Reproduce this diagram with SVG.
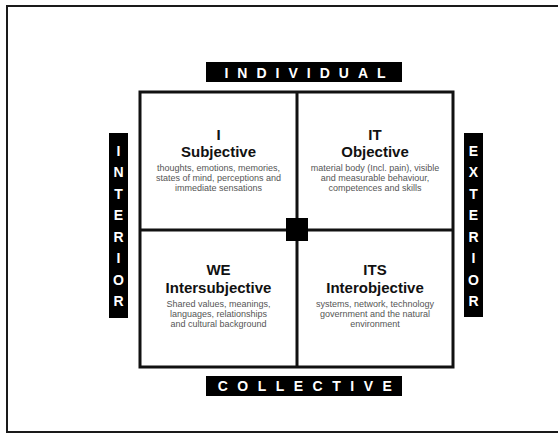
<svg xmlns="http://www.w3.org/2000/svg" width="558" height="434" viewBox="0 0 558 434">
<style>
.frame{fill:none;stroke:#111;stroke-width:3}
.label{fill:#000}
.lt{font-family:"Liberation Sans",Arial,sans-serif;font-weight:bold;font-size:14px;fill:#fff}
.vt{font-family:"Liberation Sans",Arial,sans-serif;font-weight:bold;font-size:14px;fill:#fff;text-anchor:middle}
.h{font-family:"Liberation Sans",Arial,sans-serif;font-weight:bold;font-size:15px;fill:#111;text-anchor:middle}
.d{font-family:"Liberation Sans",Arial,sans-serif;font-size:9px;fill:#555;text-anchor:middle}
</style>
<rect x="0" y="0" width="558" height="434" fill="#fff"/>
<rect x="7" y="6" width="560" height="426" fill="none" stroke="#1a1a1a" stroke-width="2"/>

<g id="frame">
<rect class="frame" x="140" y="92" width="313" height="275"/>
<line class="frame" x1="297" y1="92" x2="297" y2="367"/>
<line class="frame" x1="140" y1="230" x2="453" y2="230"/>
<rect x="286" y="218" width="22" height="23" fill="#000"/>
</g>

<g id="individual">
<rect class="label" x="206" y="62" width="196" height="20"/>
<text class="lt" x="309.5" y="78" text-anchor="middle" letter-spacing="9">INDIVIDUAL</text>
</g>
<g id="collective">
<rect class="label" x="206" y="376" width="196" height="20"/>
<text class="lt" x="309.5" y="391" text-anchor="middle" letter-spacing="9.5">COLLECTIVE</text>
</g>
<g id="interior">
<rect class="label" x="109" y="133" width="19" height="185"/>
<text class="vt" x="118.5" y="155.5">I</text>
<text class="vt" x="118.5" y="177">N</text>
<text class="vt" x="118.5" y="198.5">T</text>
<text class="vt" x="118.5" y="220">E</text>
<text class="vt" x="118.5" y="241.5">R</text>
<text class="vt" x="118.5" y="263">I</text>
<text class="vt" x="118.5" y="284.5">O</text>
<text class="vt" x="118.5" y="306">R</text>
</g>
<g id="exterior">
<rect class="label" x="464" y="133" width="19" height="184"/>
<text class="vt" x="473.5" y="155.5">E</text>
<text class="vt" x="473.5" y="177">X</text>
<text class="vt" x="473.5" y="198.5">T</text>
<text class="vt" x="473.5" y="220">E</text>
<text class="vt" x="473.5" y="241.5">R</text>
<text class="vt" x="473.5" y="263">I</text>
<text class="vt" x="473.5" y="284.5">O</text>
<text class="vt" x="473.5" y="306">R</text>
</g>

<g id="q-subjective">
<text class="h" x="218.5" y="140">I</text>
<text class="h" x="218.5" y="157">Subjective</text>
<text class="d" x="218.5" y="171">thoughts, emotions, memories,</text>
<text class="d" x="218.5" y="181">states of mind, perceptions and</text>
<text class="d" x="218.5" y="191">immediate sensations</text>
</g>
<g id="q-objective">
<text class="h" x="375" y="140">IT</text>
<text class="h" x="375" y="157">Objective</text>
<text class="d" x="375" y="171">material body (Incl. pain), visible</text>
<text class="d" x="375" y="181">and measurable behaviour,</text>
<text class="d" x="375" y="191">competences and skills</text>
</g>
<g id="q-intersubjective">
<text class="h" x="218.5" y="275">WE</text>
<text class="h" x="218.5" y="293">Intersubjective</text>
<text class="d" x="218.5" y="307">Shared values, meanings,</text>
<text class="d" x="218.5" y="317">languages, relationships</text>
<text class="d" x="218.5" y="327">and cultural background</text>
</g>
<g id="q-interobjective">
<text class="h" x="375" y="275">ITS</text>
<text class="h" x="375" y="293">Interobjective</text>
<text class="d" x="375" y="307">systems, network, technology</text>
<text class="d" x="375" y="317">government and the natural</text>
<text class="d" x="375" y="327">environment</text>
</g>
</svg>
